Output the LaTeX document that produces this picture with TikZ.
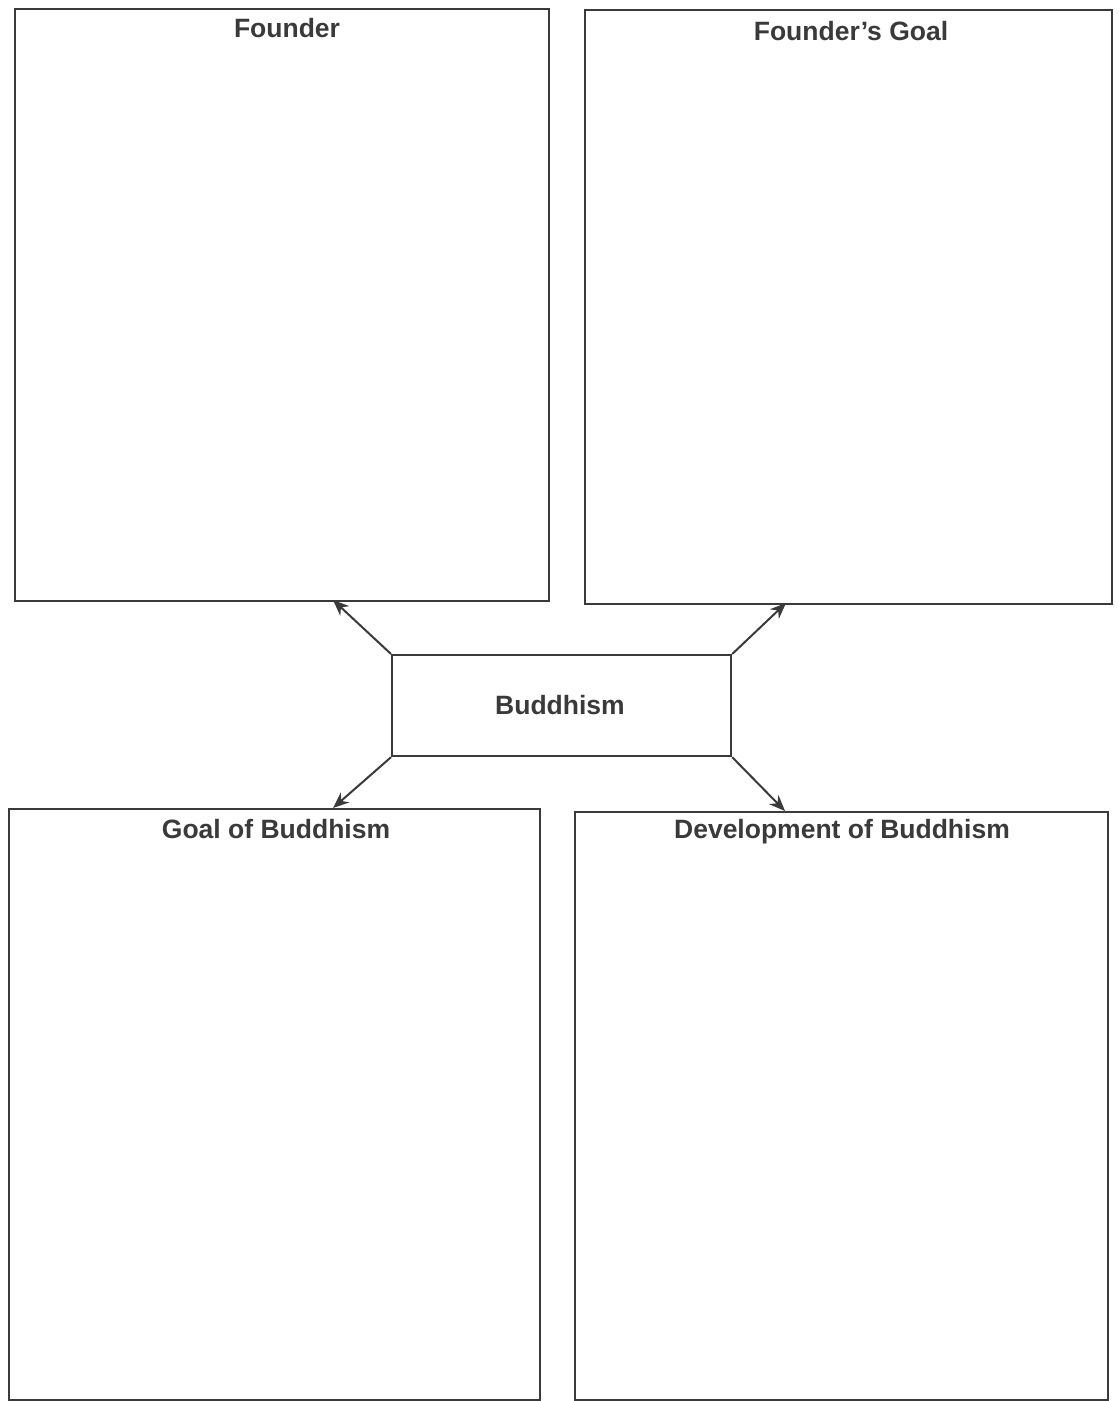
\documentclass[tikz,border=0pt]{standalone}
\usepackage{fontspec}
\setmainfont{Liberation Sans}
\usetikzlibrary{arrows.meta}
\definecolor{ink}{HTML}{3A3A3A}
\begin{document}
\begin{tikzpicture}[x=1bp,y=-1bp,
  box/.style={draw=ink,line width=2.2bp},
  title/.style={text=ink,font=\fontsize{26.6}{31}\selectfont\bfseries,inner sep=0pt},
  arr/.style={draw=ink,line width=2bp,-{Stealth[length=16bp,width=13bp]}}]
\useasboundingbox (0,0) rectangle (1118,1401);
\fill[white] (0,0) rectangle (1118,1401);
% boxes
\node[box,minimum width=534bp,minimum height=592bp,anchor=north west] (f) at (14,8) {};
\node[box,minimum width=527bp,minimum height=594bp,anchor=north west] (fg) at (584,9) {};
\node[box,minimum width=339bp,minimum height=101bp,anchor=north west] (bud) at (391,654) {};
\node[box,minimum width=531bp,minimum height=591bp,anchor=north west] (gb) at (8,808) {};
\node[box,minimum width=533bp,minimum height=588bp,anchor=north west] (db) at (574,811) {};
% titles
\node[title] (tf) at (287,28) {Founder};
\node[title] (tfg) at (851,31) {Founder’s Goal};
\node[title] (tbud) at (560,705) {Buddhism};
\node[title] (tgb) at (276,829) {Goal of Buddhism};
\node[title] (tdb) at (842,832) {Development of Buddhism};
% arrow ends
\coordinate (e1) at (333,600);
\coordinate (e2) at (786,603);
\coordinate (e3) at (333,808);
\coordinate (e4) at (785,811);
\draw[arr] (bud.north west) -- (e1);
\draw[arr] (bud.north east) -- (e2);
\draw[arr] (bud.south west) -- (e3);
\draw[arr] (bud.south east) -- (e4);
\end{tikzpicture}
\end{document}
